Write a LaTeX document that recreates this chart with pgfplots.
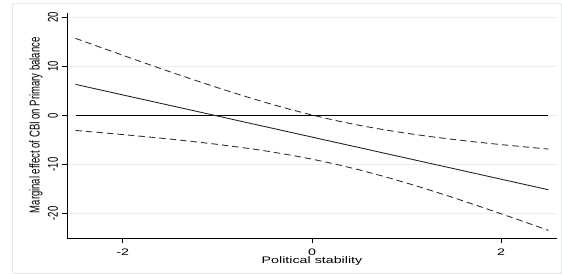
\documentclass[border=0pt]{standalone}
\usepackage{pgfplots}
\pgfplotsset{compat=1.18}
\usepackage{pgfplotstable}
\usepackage{fontspec}
\setmainfont{Liberation Sans}
\usepackage{graphicx}
\definecolor{gridc}{RGB}{232,240,242}
\definecolor{framec}{RGB}{226,234,238}
\pgfplotstableread{
x est up lo
-2.50 6.35 15.75 -3.05
-2.25 5.28 14.01 -3.46
-2.00 4.20 12.29 -3.89
-1.75 3.13 10.59 -4.34
-1.50 2.05 8.91 -4.81
-1.25 0.98 7.28 -5.33
-1.00 -0.10 5.69 -5.89
-0.75 -1.18 4.16 -6.51
-0.50 -2.25 2.70 -7.20
-0.25 -3.33 1.35 -8.00
0.00 -4.40 0.10 -8.90
0.25 -5.48 -1.02 -9.93
0.50 -6.55 -2.01 -11.09
0.75 -7.63 -2.87 -12.38
1.00 -8.70 -3.63 -13.77
1.25 -9.78 -4.30 -15.25
1.50 -10.85 -4.90 -16.80
1.75 -11.93 -5.44 -18.41
2.00 -13.00 -5.94 -20.06
2.25 -14.08 -6.41 -21.74
2.50 -15.15 -6.85 -23.45
}\effect
\begin{document}
\begin{tikzpicture}[x=1pt,y=1pt]
\draw[framec, line width=1pt] (12,1) rectangle (561.5,271);
\begin{axis}[
  at={(67pt,36pt)}, anchor=south west,
  scale only axis, width=490pt, height=225.4pt,
  xmin=-2.59, xmax=2.59, ymin=-25, ymax=21,
  axis x line*=bottom, axis y line*=left,
  axis line style={-, line width=1pt, black},
  every outer x axis line/.append style={-},
  every outer y axis line/.append style={-},
  xtick={-2,0,2}, ytick={-20,-10,0,10,20},
  xticklabels={\scalebox{1.5}[1]{-2},\scalebox{1.5}[1]{0},\scalebox{1.5}[1]{2}},
  yticklabels={\scalebox{1}[1.5]{-20},\scalebox{1}[1.5]{-10},\scalebox{1}[1.5]{0},\scalebox{1}[1.5]{10},\scalebox{1}[1.5]{20}},
  tick align=outside, major tick length=5pt,
  tick style={black, line width=0.8pt},
  ymajorgrids, grid style={gridc, line width=0.8pt},
  ticklabel style={font=\fontsize{9.5}{11}\selectfont},
  yticklabel style={rotate=90, anchor=center, yshift=9pt},
  xticklabel style={inner sep=0pt, yshift=-5.5pt},
  xlabel={\scalebox{1.5}[1]{Political stability}},
  ylabel={\scalebox{1}[1.5]{Marginal effect of CBI on Primary balance}},
  label style={font=\fontsize{9.5}{11}\selectfont},
  xlabel style={at={(axis description cs:0.5,0)}, anchor=north, inner sep=0pt, yshift=-18.5pt},
  ylabel style={at={(axis description cs:0,0.5)}, anchor=center, yshift=31pt},
  clip=false,
]
\addplot[black, line width=0.9pt] coordinates {(-2.5,0) (2.5,0)};
\addplot[black!85, line width=0.9pt] table[x=x, y=est] {\effect};
\addplot[black!80, line width=0.9pt, dash pattern=on 6.5pt off 4pt] table[x=x, y=up] {\effect};
\addplot[black!80, line width=0.9pt, dash pattern=on 6.5pt off 4pt] table[x=x, y=lo] {\effect};
\end{axis}
\pgfresetboundingbox
\useasboundingbox (0,0) rectangle (562,274);
\end{tikzpicture}
\end{document}
